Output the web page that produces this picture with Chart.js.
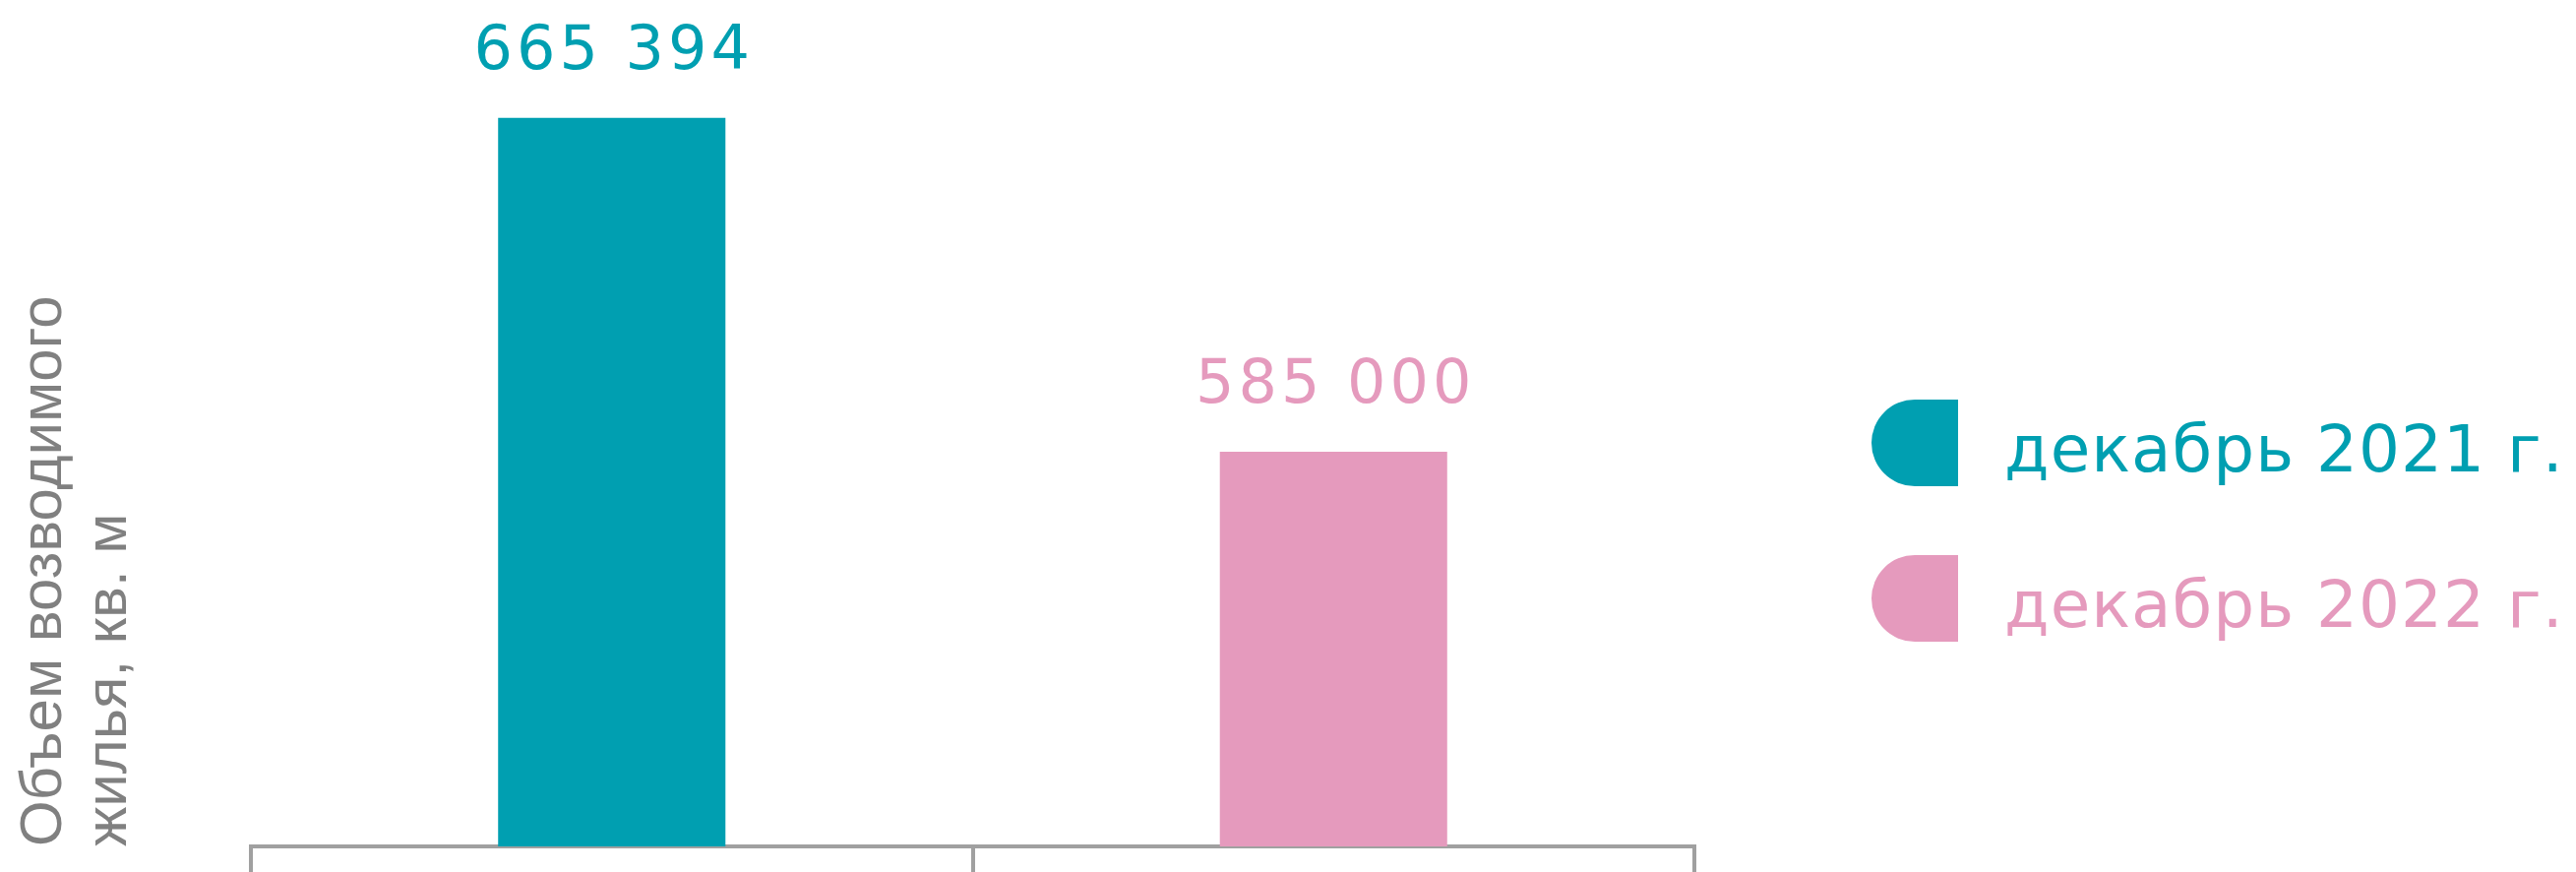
<!DOCTYPE html>
<html lang="ru">
<head>
<meta charset="utf-8">
<script src="https://cdn.jsdelivr.net/npm/chart.js@4/dist/chart.umd.min.js"></script>
<style>
  html, body { margin: 0; padding: 0; background: #fff; }
  .chart-box { position: relative; width: 2618px; height: 886px; }
</style>
</head>
<body>
<div class="chart-box"><canvas id="chart1"></canvas></div>
<script>
'use strict';

const categories = ['декабрь 2021 г.', 'декабрь 2022 г.'];
const values = [665394, 585000];
const barColors = ['#009FB1', '#E59ABD'];
const axisTitle = ['Объем возводимого', 'жилья, кв. м'];
const yRange = [490000, 690000];

function formatValue(v) {
    return String(v).replace(/\B(?=(\d{3})+(?!\d))/g, ' ');
}

// numbers above the bars
const valueLabels = {
    id: 'valueLabels',
    afterDatasetsDraw(chart) {
        const ctx = chart.ctx;
        const meta = chart.getDatasetMeta(0);
        ctx.save();
        ctx.font = '62px "DejaVu Sans"';
        ctx.letterSpacing = '4px';
        ctx.textAlign = 'center';
        ctx.textBaseline = 'alphabetic';
        meta.data.forEach(function (bar, i) {
            ctx.fillStyle = barColors[i];
            ctx.fillText(formatValue(values[i]), bar.x + 2, bar.y - 50);
        });
        ctx.restore();
    }
};

// legend on the right: half-rounded swatch + label
const sideLegend = {
    id: 'sideLegend',
    afterDraw(chart) {
        const ctx = chart.ctx;
        const x = chart.chartArea.right + 180;
        const size = 88;
        ctx.save();
        ctx.font = '66px "DejaVu Sans"';
        ctx.letterSpacing = '1px';
        ctx.textBaseline = 'alphabetic';
        categories.forEach(function (label, i) {
            const cy = 450 + i * 158;
            ctx.fillStyle = barColors[i];
            ctx.beginPath();
            ctx.roundRect(x, cy - size / 2, size, size, [44, 0, 0, 44]);
            ctx.fill();
            ctx.fillText(label, x + 135, cy + 29);
        });
        ctx.restore();
    }
};

const chartData = {
    type: 'bar',
    data: {
        labels: categories,
        datasets: [{
            data: values,
            backgroundColor: barColors,
            borderWidth: 0,
            categoryPercentage: 1,
            barPercentage: 0.315
        }]
    },
    options: {
        responsive: true,
        maintainAspectRatio: false,
        animation: false,
        layout: {
            padding: { top: 16, right: 896, bottom: 0, left: 0 }
        },
        plugins: {
            legend: { display: false },
            tooltip: { enabled: false }
        },
        scales: {
            x: {
                offset: true,
                ticks: { display: false },
                grid: {
                    offset: true,
                    drawOnChartArea: false,
                    drawTicks: true,
                    tickLength: 26,
                    lineWidth: 4,
                    color: '#A0A0A0'
                },
                border: { display: true, color: '#A0A0A0', width: 4 }
            },
            y: {
                min: yRange[0],
                max: yRange[1],
                ticks: { display: false },
                grid: { display: false },
                border: { display: false },
                title: {
                    display: true,
                    text: axisTitle,
                    align: 'start',
                    color: '#808080',
                    font: { family: '"Liberation Sans", Arial, sans-serif', size: 60, lineHeight: 1.1 },
                    padding: { top: 12, bottom: 103 }
                }
            }
        }
    },
    plugins: [valueLabels, sideLegend]
};

function createChart(chartId, cfg) {
    new Chart(document.getElementById(chartId), {
        type: cfg.type,
        data: cfg.data,
        options: cfg.options,
        plugins: cfg.plugins
    });
}

window.onload = function () {
    createChart('chart1', chartData);
};
</script>
</body>
</html>
